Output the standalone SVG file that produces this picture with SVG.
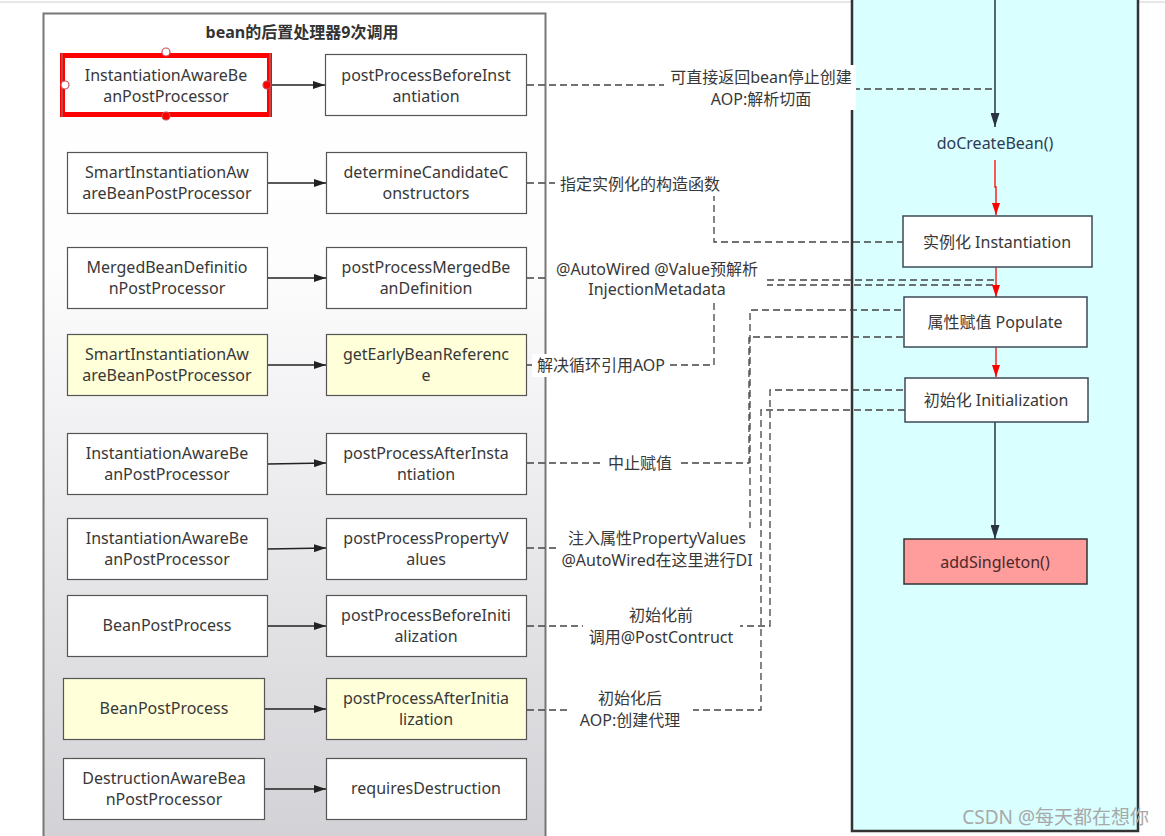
<svg xmlns="http://www.w3.org/2000/svg" width="1165" height="836" viewBox="0 0 1165 836">
<defs>
<linearGradient id="lg" x1="0" y1="0" x2="0" y2="1">
<stop offset="0" stop-color="#ffffff"/>
<stop offset="0.3" stop-color="#fdfdfe"/>
<stop offset="1" stop-color="#d2d2d6"/>
</linearGradient>
<marker id="ah" viewBox="0 0 12 8" refX="12" refY="4" markerWidth="12" markerHeight="8" markerUnits="userSpaceOnUse" orient="auto">
<path d="M0,0 L12,4 L0,8 z" fill="#222"/>
</marker>
<marker id="ahr" viewBox="0 0 12 8" refX="12" refY="4" markerWidth="12" markerHeight="8" markerUnits="userSpaceOnUse" orient="auto">
<path d="M0,0 L12,4 L0,8 z" fill="#ff0000"/>
</marker>
<marker id="ahd" viewBox="0 0 14 9" refX="14" refY="4.5" markerWidth="14" markerHeight="9" markerUnits="userSpaceOnUse" orient="auto">
<path d="M0,0 L14,4.5 L0,9 z" fill="#2a3340"/>
</marker>
</defs>
<style>
text{font-family:"Noto Sans","Noto Sans CJK SC",sans-serif;fill:#383838;}
.t{font-size:16px;text-anchor:middle;}
.lb{font-size:16px;text-anchor:middle;fill:#383838;}
.box{fill:#fff;stroke:#555;stroke-width:1.2;}
.ybox{fill:#ffffd9;stroke:#555;stroke-width:1.2;}
.rbox{fill:#fff;stroke:#3d4a57;stroke-width:1.5;}
.arr{stroke:#222;stroke-width:1.3;fill:none;marker-end:url(#ah);}
.dash{stroke:#444;stroke-width:1.3;fill:none;stroke-dasharray:7,4;}
.bg{fill:#fff;}
</style>
<rect x="0" y="0" width="1165" height="836" fill="#fff"/>
<line x1="0" y1="2" x2="1165" y2="2" stroke="#cfcfcf" stroke-width="1"/>
<g id="left-panel">
<rect x="43.5" y="13.5" width="502" height="830" fill="url(#lg)" stroke="#777" stroke-width="2"/>
<text x="302" y="38" style="font-size:16px;font-weight:bold;text-anchor:middle;fill:#333;">bean的后置处理器9次调用</text>
</g>
<g id="right-panel">
<rect x="852" y="-5" width="286" height="836" fill="#d9ffff" stroke="#333" stroke-width="2.5"/>
</g>
<g id="connectors">
<path class="dash" d="M527,85 H761 V89 H995"/>
<path class="dash" d="M527,183 H714 V242 H903"/>
<path class="dash" d="M527,278 H660 V280 H995"/>
<path class="dash" d="M527,365 H714 V285 H995"/>
<path class="dash" d="M527,463 H749 V337 H904"/>
<path class="dash" d="M527,548 H750 V310 H904"/>
<path class="dash" d="M527,626 H770 V390 H905"/>
<path class="dash" d="M527,710 H761 V410 H905"/>
<line class="arr" x1="272" y1="85" x2="325" y2="85"/>
<line class="arr" x1="268" y1="183" x2="326" y2="183"/>
<line class="arr" x1="268" y1="278" x2="326" y2="278"/>
<line class="arr" x1="268" y1="365" x2="326" y2="365"/>
<line class="arr" x1="268" y1="464" x2="326" y2="463"/>
<line class="arr" x1="268" y1="549" x2="326" y2="548"/>
<line class="arr" x1="268" y1="626" x2="326" y2="626"/>
<line class="arr" x1="265" y1="709" x2="326" y2="709"/>
<line class="arr" x1="265" y1="789" x2="326" y2="789"/>
<line x1="995" y1="0" x2="995" y2="127" stroke="#2a3340" stroke-width="1.5" marker-end="url(#ahd)"/>
<path d="M995,160 V187 H996 V215" stroke="#ff0000" stroke-width="1.3" fill="none" marker-end="url(#ahr)"/>
<line x1="996" y1="267" x2="996" y2="297" stroke="#ff0000" stroke-width="1.3" marker-end="url(#ahr)"/>
<line x1="996" y1="347" x2="996" y2="377" stroke="#ff0000" stroke-width="1.3" marker-end="url(#ahr)"/>
<line x1="995" y1="422" x2="995" y2="539" stroke="#2a3340" stroke-width="1.5" marker-end="url(#ahd)"/>
</g>
<g id="labels">
<rect class="bg" x="664" y="65" width="192" height="45"/>
<text class="lb" x="761" y="83">可直接返回bean停止创建</text>
<text class="lb" x="761" y="105">AOP:解析切面</text>
<rect class="bg" x="555" y="173" width="170" height="23"/>
<text class="lb" x="640" y="190">指定实例化的构造函数</text>
<rect class="bg" x="547" y="258" width="220" height="42"/>
<text class="lb" x="657" y="275">@AutoWired @Value预解析</text>
<text class="lb" x="657" y="295">InjectionMetadata</text>
<rect class="bg" x="532" y="354" width="138" height="23"/>
<text class="lb" x="601" y="371">解决循环引用AOP</text>
<rect class="bg" x="603" y="452" width="74" height="23"/>
<text class="lb" x="640" y="469">中止赋值</text>
<rect class="bg" x="560" y="528" width="193" height="44"/>
<text class="lb" x="657" y="544">注入属性PropertyValues</text>
<text class="lb" x="657" y="566">@AutoWired在这里进行DI</text>
<rect class="bg" x="583" y="604" width="157" height="45"/>
<text class="lb" x="661" y="621">初始化前</text>
<text class="lb" x="661" y="643">调用@PostContruct</text>
<rect class="bg" x="567" y="687" width="126" height="45"/>
<text class="lb" x="630" y="704">初始化后</text>
<text class="lb" x="630" y="726">AOP:创建代理</text>
</g>
<g id="n1a">
<rect x="62.5" y="55.5" width="207" height="59" fill="#fff" stroke="#ff0000" stroke-width="5"/>
<line x1="62" y1="53" x2="62" y2="117" stroke="#888" stroke-width="1"/>
<line x1="270" y1="53" x2="270" y2="117" stroke="#888" stroke-width="1"/>
<circle cx="166" cy="52" r="4" fill="#fff" stroke="#c8505a" stroke-width="1.2"/>
<circle cx="166" cy="116" r="4" fill="#ff0000" stroke="#c8505a" stroke-width="1.2"/>
<circle cx="65" cy="85" r="4" fill="#fff" stroke="#c8505a" stroke-width="1.2"/>
<circle cx="267" cy="85" r="4" fill="#ff0000" stroke="#c8505a" stroke-width="1.2"/>
<text class="t" x="166" y="81">InstantiationAwareBe</text>
<text class="t" x="166" y="102">anPostProcessor</text>
</g>
<g id="n1b"><rect class="box" x="325.5" y="54.5" width="201" height="61"/>
<text class="t" x="426" y="81">postProcessBeforeInst</text><text class="t" x="426" y="102">antiation</text></g>
<g id="n2a"><rect class="box" x="67.5" y="152.5" width="200" height="61"/>
<text class="t" x="167" y="178">SmartInstantiationAw</text><text class="t" x="167" y="199">areBeanPostProcessor</text></g>
<g id="n2b"><rect class="box" x="326.5" y="152.5" width="200" height="61"/>
<text class="t" x="426" y="178">determineCandidateC</text><text class="t" x="426" y="199">onstructors</text></g>
<g id="n3a"><rect class="box" x="67.5" y="247.5" width="200" height="61"/>
<text class="t" x="167" y="273">MergedBeanDefinitio</text><text class="t" x="167" y="294">nPostProcessor</text></g>
<g id="n3b"><rect class="box" x="326.5" y="247.5" width="200" height="61"/>
<text class="t" x="426" y="273">postProcessMergedBe</text><text class="t" x="426" y="294">anDefinition</text></g>
<g id="n4a"><rect class="ybox" x="67.5" y="334.5" width="200" height="61"/>
<text class="t" x="167" y="360">SmartInstantiationAw</text><text class="t" x="167" y="381">areBeanPostProcessor</text></g>
<g id="n4b"><rect class="ybox" x="326.5" y="334.5" width="200" height="61"/>
<text class="t" x="426" y="360">getEarlyBeanReferenc</text><text class="t" x="426" y="381">e</text></g>
<g id="n5a"><rect class="box" x="67.5" y="433.5" width="200" height="61"/>
<text class="t" x="167" y="459">InstantiationAwareBe</text><text class="t" x="167" y="480">anPostProcessor</text></g>
<g id="n5b"><rect class="box" x="326.5" y="433.5" width="200" height="61"/>
<text class="t" x="426" y="459">postProcessAfterInsta</text><text class="t" x="426" y="480">ntiation</text></g>
<g id="n6a"><rect class="box" x="67.5" y="518.5" width="200" height="61"/>
<text class="t" x="167" y="544">InstantiationAwareBe</text><text class="t" x="167" y="565">anPostProcessor</text></g>
<g id="n6b"><rect class="box" x="326.5" y="518.5" width="200" height="61"/>
<text class="t" x="426" y="544">postProcessPropertyV</text><text class="t" x="426" y="565">alues</text></g>
<g id="n7a"><rect class="box" x="67.5" y="595.5" width="200" height="61"/>
<text class="t" x="167" y="631">BeanPostProcess</text></g>
<g id="n7b"><rect class="box" x="326.5" y="595.5" width="200" height="61"/>
<text class="t" x="426" y="621">postProcessBeforeIniti</text><text class="t" x="426" y="642">alization</text></g>
<g id="n8a"><rect class="ybox" x="63.5" y="678.5" width="201" height="61"/>
<text class="t" x="164" y="714">BeanPostProcess</text></g>
<g id="n8b"><rect class="ybox" x="326.5" y="678.5" width="200" height="61"/>
<text class="t" x="426" y="704">postProcessAfterInitia</text><text class="t" x="426" y="725">lization</text></g>
<g id="n9a"><rect class="box" x="63.5" y="758.5" width="201" height="61"/>
<text class="t" x="164" y="784">DestructionAwareBea</text><text class="t" x="164" y="805">nPostProcessor</text></g>
<g id="n9b"><rect class="box" x="326.5" y="758.5" width="200" height="61"/>
<text class="t" x="426" y="794">requiresDestruction</text></g>
<g id="doCreateBean"><text class="t" x="995" y="149" style="fill:#2d3b55;">doCreateBean()</text></g>
<g id="instantiation"><rect class="rbox" x="903" y="216" width="189" height="51"/>
<text class="t" x="997" y="248">实例化 Instantiation</text></g>
<g id="populate"><rect class="rbox" x="904" y="297" width="183" height="50"/>
<text class="t" x="995" y="328">属性赋值 Populate</text></g>
<g id="initialization"><rect class="rbox" x="905" y="378" width="183" height="44"/>
<text class="t" x="996" y="406">初始化 Initialization</text></g>
<g id="addSingleton"><rect x="904" y="539" width="183" height="45" fill="#ff9c9c" stroke="#333" stroke-width="1.5"/>
<text class="t" x="995" y="568" style="fill:#4a2a2a;">addSingleton()</text></g>
<text x="1149" y="824" style="font-size:19px;text-anchor:end;fill:#a8a8a8;">CSDN @每天都在想你</text>
</svg>
